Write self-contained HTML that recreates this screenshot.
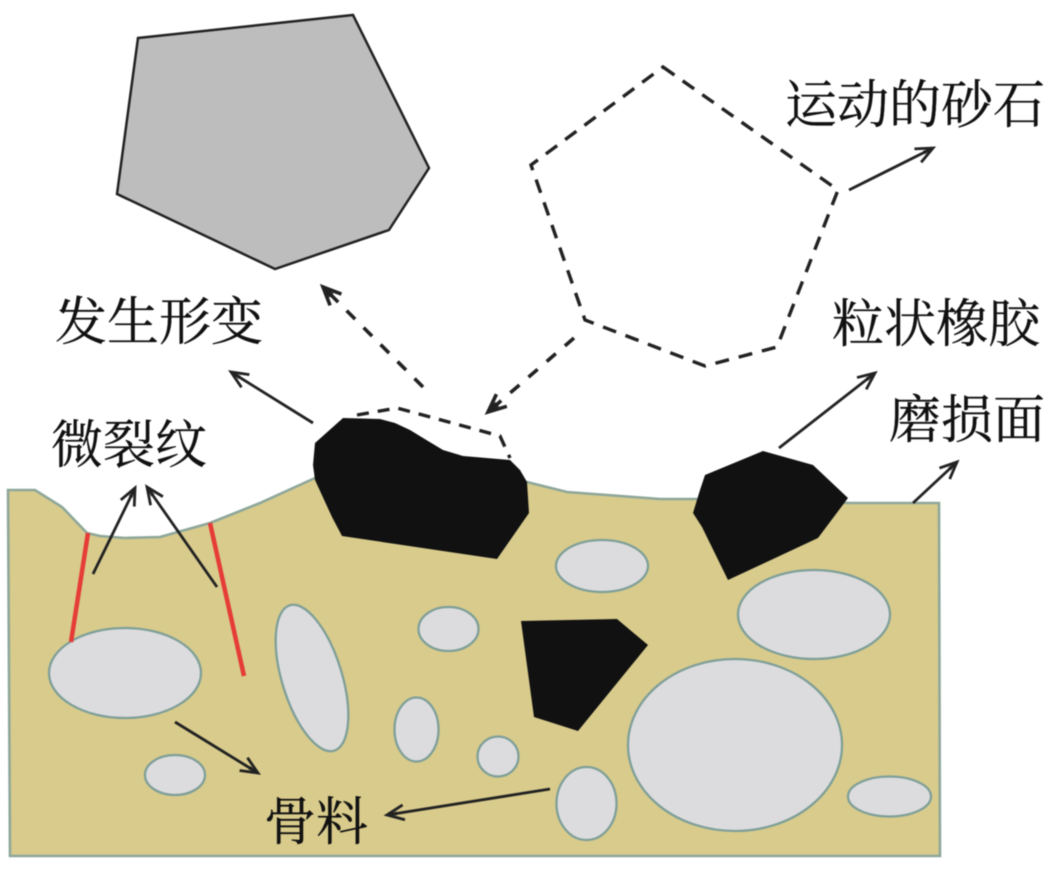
<!DOCTYPE html>
<html>
<head>
<meta charset="utf-8">
<style>
html,body{margin:0;padding:0;background:#fff;}
svg{display:block;filter:blur(0.4px);}
text{font-family:"Liberation Serif","Noto Serif CJK SC",serif;font-size:52px;fill:#111;stroke:#111;stroke-width:0.3px;}
</style>
</head>
<body>
<svg width="1059" height="869" viewBox="0 0 1059 869" xmlns="http://www.w3.org/2000/svg">
<defs>
<marker id="a" markerWidth="30" markerHeight="24" refX="21" refY="10" orient="auto" markerUnits="userSpaceOnUse">
<path d="M4 2.5 L21 10 L4 17.5" fill="none" stroke="#222" stroke-width="2.8"/>
<path d="M11 8 L21 10 L11 12 Z" fill="#222"/>
</marker>
<marker id="b" markerWidth="30" markerHeight="26" refX="21" refY="11" orient="auto" markerUnits="userSpaceOnUse">
<path d="M3 3 L21 11 L3 19" fill="none" stroke="#222" stroke-width="3.6"/>
<path d="M9 8 L21 11 L9 14 Z" fill="#222"/>
</marker>
</defs>
<path d="M8 490 L35 490 L62 507 L87 533 L100 536 L125 538 L160 537 L210 523 L260 503 L315 478 L527 482 L567 492 L660 499 L695 499 L850 503 L913 503 L939 503 L940 856 L10 856 Z" fill="#d8cb8c" stroke="#8ea79a" stroke-width="2.6"/>
<path d="M138 38 L353 15 L429 168 L389 230 L275 269 L117 194 Z" fill="#bdbdbd" stroke="#222" stroke-width="2.5"/>
<path d="M663 67 L838 190 L777 347 L705 366 L585 320 L531 165 Z" fill="#fff" stroke="#222" stroke-width="3.4" stroke-dasharray="14 10"/>
<path d="M357 415 L397 408 L500 436 L510 458" fill="none" stroke="#222" stroke-width="3.4" stroke-dasharray="12 9"/>
<path d="M343 418 L380 419 L395 423 L410 430 L428 441 L443 450 L463 456 L510 460 L520 470 L527 482 L529 513 L497 559 L342 536 L332 517 L315 480 L313 465 L315 443 Z" fill="#111"/>
<path d="M693 513 L700 490 L705 475 L763 451 L813 465 L848 498 L818 538 L728 580 L702 527 Z" fill="#111"/>
<path d="M521 621 L617 619 L648 645 L578 731 L534 717 Z" fill="#111"/>
<g fill="#dcdcde" stroke="#7f9f98" stroke-width="2.3">
<ellipse cx="125" cy="673" rx="76" ry="45"/>
<ellipse cx="312" cy="678" rx="30" ry="76" transform="rotate(-17 312 678)"/>
<ellipse cx="602" cy="566" rx="46" ry="26"/>
<ellipse cx="448.5" cy="629" rx="30" ry="22"/>
<ellipse cx="814" cy="614.5" rx="76" ry="44.5"/>
<ellipse cx="416.5" cy="729.5" rx="22" ry="32"/>
<ellipse cx="498" cy="756.5" rx="20.5" ry="20"/>
<ellipse cx="175" cy="775" rx="30" ry="20"/>
<ellipse cx="735" cy="745" rx="107" ry="86"/>
<ellipse cx="586.5" cy="803.5" rx="30" ry="36.5"/>
<ellipse cx="889.5" cy="796.5" rx="41.5" ry="20"/>
</g>
<path d="M88 533 L71 642" stroke="#e63c38" stroke-width="4.5" fill="none"/>
<path d="M210 523 L244 676" stroke="#e63c38" stroke-width="4.5" fill="none"/>
<g fill="none" stroke="#222" stroke-width="2.8" marker-end="url(#a)">
<path d="M849 190 L933 148"/>
<path d="M779 448 L875 373"/>
<path d="M913 503 L957 462"/>
<path d="M313 423 L231 372"/>
<path d="M93 574 L135 488"/>
<path d="M217 587 L147 487"/>
<path d="M175 722 L258 773"/>
<path d="M550 789 L387 815"/>
</g>
<g fill="none" stroke="#222" stroke-width="3.6" stroke-dasharray="12 12" marker-end="url(#b)">
<path d="M423 387 L323 287"/>
<path d="M574 338 L488 412"/>
</g>
<text x="785" y="123">运动的砂石</text>
<text x="55" y="340">发生形变</text>
<text x="832" y="342">粒状橡胶</text>
<text x="889" y="438">磨损面</text>
<text x="51" y="463">微裂纹</text>
<text x="264" y="840">骨料</text>
</svg>
</body>
</html>
